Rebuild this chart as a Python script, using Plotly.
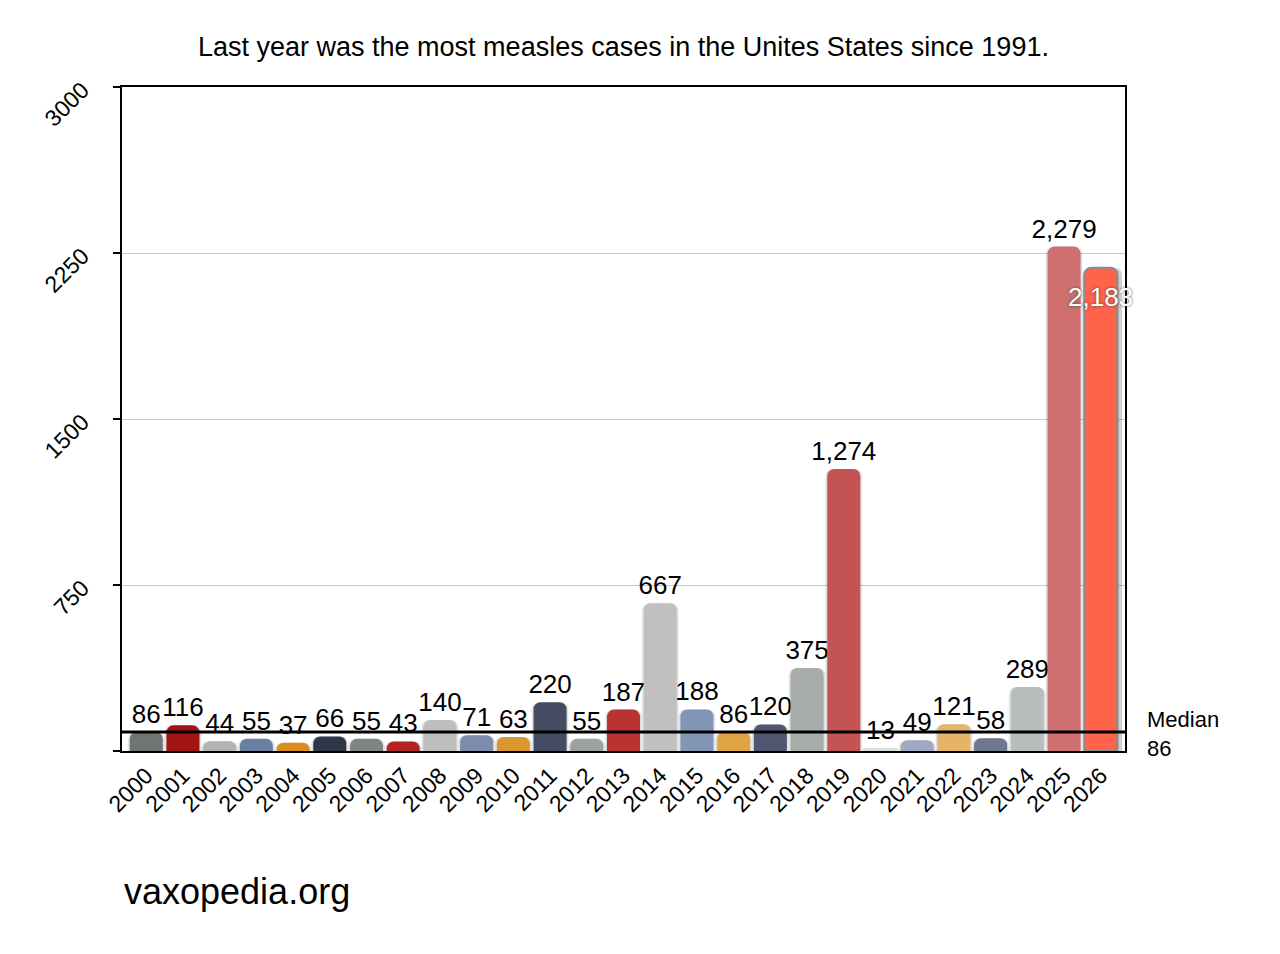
import plotly.graph_objects as go

years = [str(y) for y in range(2000, 2027)]
cases = [86, 116, 44, 55, 37, 66, 55, 43, 140, 71, 63, 220, 55, 187, 667, 188, 86, 120,
         375, 1274, 13, 49, 121, 58, 289, 2279, 2183]
labels = ["86", "116", "44", "55", "37", "66", "55", "43", "140", "71", "63", "220", "55",
          "187", "667", "188", "86", "120", "375", "1,274", "13", "49", "121", "58", "289",
          "2,279", "2,183"]
colors = ["#6f7672", "#a01414", "#b3b3b3", "#6b7fa2", "#d98e1c", "#2f3647", "#7d8683",
          "#b42424", "#bebebe", "#7c8cad", "#da972f", "#434c60", "#9ba29f", "#ba3232",
          "#c0c0c0", "#8395b5", "#e0a442", "#4f5870", "#a7acaa", "#c45454", "#dcdcdc",
          "#9eaac3", "#e6b468", "#6e7890", "#b9bdbb", "#cf6f6f", "#ff6349"]
median_value = 86
yticks = [0, 750, 1500, 2250, 3000]
ytick_text = ["", "750", "1500", "2250", "3000"]

FONT = "Liberation Sans, Arial, Helvetica, sans-serif"
x = list(range(len(years)))
n = len(years)

outside_labels = labels[:-1] + [""]
line_colors = ["rgba(0,0,0,0)"] * (n - 1) + ["#8a8a8a"]
line_widths = [0] * (n - 1) + [2]

fig = go.Figure()
# soft shadow layers
for w, a in [(1.02, 0.05), (0.97, 0.08)]:
    fig.add_trace(go.Bar(
        x=x, y=cases, width=w,
        marker=dict(color=f"rgba(0,0,0,{a})", line=dict(width=0)),
        hoverinfo="skip", showlegend=False,
    ))
# drop shadow to the right of the last bar
fig.add_trace(go.Bar(
    x=[x[-1]], y=[cases[-1]], width=1.0, offset=-0.42,
    marker=dict(color="rgba(0,0,0,0.18)", line=dict(width=0)),
    hoverinfo="skip", showlegend=False,
))
fig.add_trace(go.Bar(
    x=x, y=cases, width=0.9,
    marker=dict(color=colors, line=dict(color=line_colors, width=line_widths)),
    text=outside_labels, textposition="outside",
    textfont=dict(family=FONT, size=26, color="black"),
    constraintext="none", textangle=0, cliponaxis=False,
    showlegend=False,
))
# label inside the last bar
fig.add_annotation(x=x[-1], y=cases[-1], yanchor="top", yshift=-12, xanchor="center",
                   text=labels[-1], showarrow=False,
                   font=dict(family=FONT, size=26, color="white",
                             shadow="0px 0px 3px rgba(60,60,60,0.9)"))

fig.add_shape(type="line", xref="paper", x0=0, x1=1, yref="y", y0=median_value, y1=median_value,
              line=dict(color="black", width=3))
fig.add_annotation(xref="paper", x=1.0, xanchor="left", xshift=20, yref="y", y=median_value,
                   yanchor="middle", yshift=-2, text="Median<br>" + str(median_value),
                   showarrow=False, align="left",
                   font=dict(family=FONT, size=22, color="black"))

fig.add_annotation(xref="paper", yref="paper", x=0.5, y=1.0, yshift=40, xanchor="center",
                   yanchor="middle", showarrow=False,
                   text="Last year was the most measles cases in the Unites States since 1991.",
                   font=dict(family=FONT, size=27, color="black"))
fig.add_annotation(xref="paper", yref="paper", x=0, y=0, yshift=-140, xanchor="left",
                   yanchor="middle", showarrow=False, text="vaxopedia.org",
                   font=dict(family=FONT, size=36, color="black"))

fig.update_layout(
    width=1280, height=954,
    margin=dict(l=122, r=155, t=87, b=203),
    paper_bgcolor="white", plot_bgcolor="white",
    barmode="overlay", barcornerradius=7,
    font=dict(family=FONT, color="black"),
    xaxis=dict(range=[-0.66, 26.66], tickmode="array", tickvals=x, ticktext=years,
               tickangle=-45, tickfont=dict(size=23), showline=True, mirror=True,
               linecolor="black", linewidth=2, ticks="", showgrid=False, zeroline=False),
    yaxis=dict(range=[0, 3000], tickmode="array", tickvals=yticks, ticktext=ytick_text,
               tickangle=-45, tickfont=dict(size=23), showline=True, mirror=True,
               linecolor="black", linewidth=2, ticks="outside", ticklen=7, tickwidth=2,
               tickcolor="black", showgrid=True, gridcolor="#c8c8c8", gridwidth=1,
               zeroline=False, ticklabelstandoff=26),
)

fig.write_html("out.html")
